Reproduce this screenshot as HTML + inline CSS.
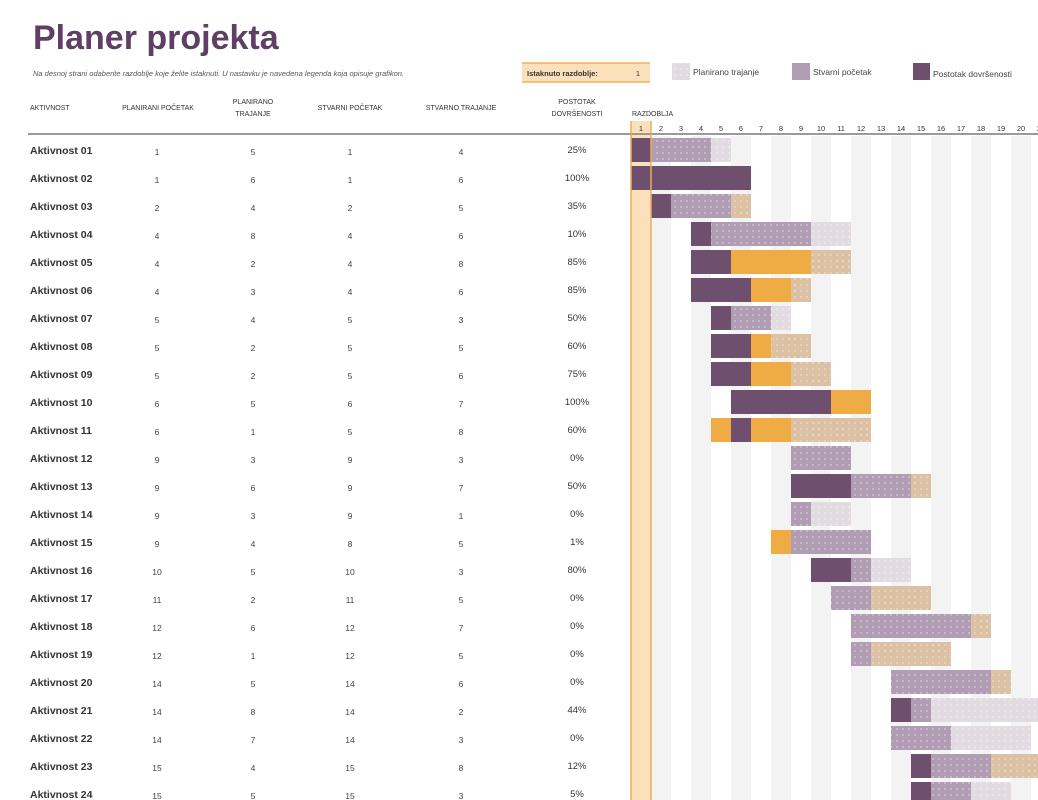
<!DOCTYPE html>
<html><head><meta charset="utf-8">
<style>
body{margin:0;width:1038px;height:800px;overflow:hidden;background:#fff;font-family:"Liberation Sans",sans-serif;}
svg{display:block}
</style></head>
<body>
<svg id="chart" width="1038" height="800" xmlns="http://www.w3.org/2000/svg">
<defs>
<pattern id="dots" width="6" height="6" patternUnits="userSpaceOnUse"><circle cx="3" cy="3" r="0.7" fill="#fff" opacity="0.7"/></pattern>
</defs>
<text x="33" y="49" font-size="34" fill="#5f3f63" font-weight="bold">Planer projekta</text>
<text x="33" y="76" font-size="7.5" font-style="italic" fill="#555">Na desnoj strani odaberite razdoblje koje želite istaknuti.  U nastavku je navedena legenda koja opisuje grafikon.</text>
<g>
<rect x="522" y="63" width="128" height="19" fill="#fbe0bc"/>
<line x1="522" y1="63" x2="650" y2="63" stroke="#f0b45a" stroke-width="1.5"/>
<line x1="522" y1="82" x2="650" y2="82" stroke="#f0b45a" stroke-width="1.5"/>
<text x="527" y="76" font-size="7.5" font-weight="bold" fill="#333">Istaknuto razdoblje:</text>
<text x="640" y="76" font-size="7.5" fill="#333" text-anchor="end">1</text>
</g>
<g><rect x="672" y="63" width="18" height="17" fill="#e2dce2"/><rect x="672" y="63" width="18" height="17" fill="url(#dots)"/><text x="693" y="75" font-size="8.5" fill="#444">Planirano trajanje</text></g>
<g><rect x="792" y="63" width="18" height="17" fill="#b09db4"/><text x="813" y="75" font-size="8.5" fill="#444">Stvarni početak</text></g>
<g><rect x="913" y="63" width="17" height="17" fill="#6e4f6e"/><text x="933" y="77" font-size="8.5" fill="#444">Postotak dovršenosti</text></g>
<g font-size="7" fill="#333">
<text x="30" y="110">AKTIVNOST</text>
<text x="158" y="110" text-anchor="middle">PLANIRANI POČETAK</text>
<text x="253" y="104" text-anchor="middle">PLANIRANO</text><text x="253" y="116" text-anchor="middle">TRAJANJE</text>
<text x="350" y="110" text-anchor="middle">STVARNI POČETAK</text>
<text x="461" y="110" text-anchor="middle">STVARNO TRAJANJE</text>
<text x="577" y="104" text-anchor="middle">POSTOTAK</text><text x="577" y="116" text-anchor="middle">DOVRŠENOSTI</text>
<text x="632" y="116">RAZDOBLJA</text>
</g>
<g id="stripes"></g>
<g id="hl"></g>
<g id="periods"></g>
<line x1="28" y1="134" x2="1038" y2="134" stroke="#9a9a9a" stroke-width="2"/>
<g id="rows"></g>
<g id="bars"></g>
<g id="hlborder"></g>
</svg>
<script>
const names=["Aktivnost 01","Aktivnost 02","Aktivnost 03","Aktivnost 04","Aktivnost 05","Aktivnost 06","Aktivnost 07","Aktivnost 08","Aktivnost 09","Aktivnost 10","Aktivnost 11","Aktivnost 12","Aktivnost 13","Aktivnost 14","Aktivnost 15","Aktivnost 16","Aktivnost 17","Aktivnost 18","Aktivnost 19","Aktivnost 20","Aktivnost 21","Aktivnost 22","Aktivnost 23","Aktivnost 24"];
const planStart=[1,1,2,4,4,4,5,5,5,6,6,9,9,9,9,10,11,12,12,14,14,14,15,15];
const planDur=[5,6,4,8,2,3,4,2,2,5,1,3,6,3,4,5,2,6,1,5,8,7,4,5];
const actStart=[1,1,2,4,4,4,5,5,5,6,5,9,9,9,8,10,11,12,12,14,14,14,15,15];
const actDur=[4,6,5,6,8,6,3,5,6,7,8,3,7,1,5,3,5,7,5,6,2,3,8,3];
const pct=[25,100,35,10,85,85,50,60,75,100,60,0,50,0,1,80,0,0,0,0,44,0,12,5];
const periods=[1,2,3,4,5,6,7,8,9,10,11,12,13,14,15,16,17,18,19,20,21];
const highlight=1;
const NS="http://www.w3.org/2000/svg";
const X0=631,CW=20,Y0=150,RH=28;
const px=p=>X0+(p-1)*CW;
const ry=i=>Y0+i*RH;
function mk(tag,attrs,parent){const e=document.createElementNS(NS,tag);for(const k in attrs)e.setAttribute(k,attrs[k]);parent.appendChild(e);return e;}
const stripes=document.getElementById('stripes'),per=document.getElementById('periods'),rows=document.getElementById('rows'),bars=document.getElementById('bars');
periods.forEach(p=>{
  if(p%2===0){const s=mk('rect',{x:px(p),y:136,width:CW,height:664,fill:'#f3f3f3'},stripes);
  
  }
  const t=mk('text',{x:px(p)+CW/2,y:131,'font-size':7.5,'text-anchor':'middle',fill:'#333'},per);t.textContent=p;
  
  
});
const hx=px(highlight);
const hr=mk('rect',{x:hx,y:121,width:CW,height:679,fill:'#fbe0bc'},document.getElementById('hl'));


const hb=document.getElementById('hlborder');
mk('line',{x1:hx,y1:121,x2:hx,y2:800,stroke:'#eeac55','stroke-width':1.5},hb);
mk('line',{x1:hx+CW,y1:121,x2:hx+CW,y2:800,stroke:'#eeac55','stroke-width':1.5},hb);
const cols=[157,253,350,461];
names.forEach((n,i)=>{
  const y=ry(i);
  const g=mk('g',{},rows);
  
  
  let t=mk('text',{x:30,y:y+4,'font-size':10.5,'font-weight':'bold',fill:'#333'},g);t.textContent=n;
  [planStart[i],planDur[i],actStart[i],actDur[i]].forEach((v,k)=>{const tt=mk('text',{x:cols[k],y:y+5,'font-size':8.5,'text-anchor':'middle',fill:'#444'},g);tt.textContent=v;});
  t=mk('text',{x:577,y:y+3,'font-size':9.5,'text-anchor':'middle',fill:'#333'},g);t.textContent=pct[i]+'%';
  const ps=planStart[i],pe=ps+planDur[i]-1,as=actStart[i],ae=as+actDur[i]-1;
  const ce=as+actDur[i]*pct[i]/100-1;
  periods.forEach(p=>{
    const inPlan=p>=ps&&p<=pe,inAct=p>=as&&p<=ae;
    const done=pct[i]>0&&inAct&&(p===as||p<=ce);
    let fill=null,dots=false,nm='';
    if(done){fill=inPlan?'#6e4f6e':'#f0ac44';nm=inPlan?'bar-complete':'bar-complete-beyond';}
    else if(inAct){if(inPlan){fill='#b09db4';nm='bar-actual';}else{fill='#dcc1a4';dots=true;nm='bar-actual-beyond';}dots=true;}
    else if(inPlan){fill='#e2dce2';dots=true;nm='bar-planned';}
    if(fill){
      const r=mk('rect',{x:px(p),y:y-12,width:CW,height:24,fill:fill},bars);
      
      
      if(dots)mk('rect',{x:px(p),y:y-12,width:CW,height:24,fill:'url(#dots)'},bars);
    }
  });
});
</script>
</body></html>
